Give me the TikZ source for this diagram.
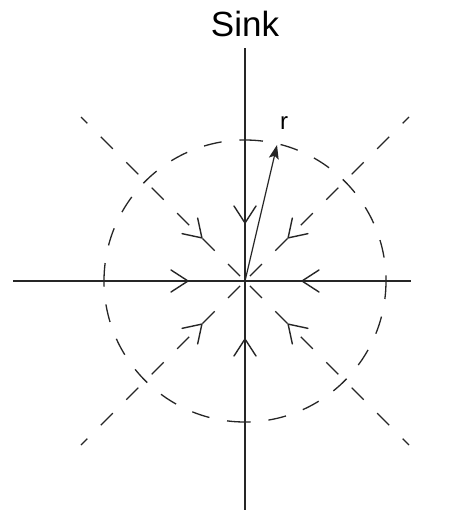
\documentclass[tikz,border=0pt]{standalone}
\usepackage{fontspec}
\setmainfont{Liberation Sans}
\usetikzlibrary{arrows.meta}
\begin{document}
\begin{tikzpicture}[x=1pt,y=-1pt,
  axis/.style={line width=1.4pt, black!85},
  ray/.style={line width=1.3pt, black!85, dash pattern=on 17pt off 19pt, dash phase=8pt},
  ring/.style={line width=1.3pt, black!85, dash pattern=on 18pt off 18pt},
  barb/.style={line width=1.4pt, black!85, line cap=round, line join=miter},
  radius arrow/.style={line width=1.2pt, black!85, -{Stealth[length=14pt,width=10pt,inset=3pt]}},
]
\useasboundingbox (0,0) rectangle (466,517);
\fill[white] (0,0) rectangle (466,517);
\coordinate (O) at (245,281);
\coordinate (W) at (13,281);
\coordinate (E) at (411,281);
\coordinate (N) at (245,48);
\coordinate (S) at (245,510);
\coordinate (NW) at (81,117);
\coordinate (NE) at (409,117);
\coordinate (SW) at (81,445);
\coordinate (SE) at (409,445);
\coordinate (R) at (277,145);

% title
\node[font=\fontsize{35}{35}\selectfont] (title) at (245,24) {Sink};

% axes
\draw[axis] (W) -- (E);
\draw[axis] (N) -- (S);

% diagonal dashed rays
\draw[ray] (NW) -- (O);
\draw[ray] (NE) -- (O);
\draw[ray] (SW) -- (O);
\draw[ray] (SE) -- (O);

% dashed circle (four quarters, each starting at an axis point)
\draw[ring] (386,281) arc[start angle=0, end angle=90, radius=141];
\draw[ring] (245,422) arc[start angle=90, end angle=180, radius=141];
\draw[ring] (104,281) arc[start angle=180, end angle=270, radius=141];
\draw[ring] (245,140) arc[start angle=270, end angle=360, radius=141];

% inward barbs
\coordinate (tW) at (188,281);
\coordinate (tE) at (302,281);
\coordinate (tN) at (245,223);
\coordinate (tS) at (245,339);
\coordinate (tNW) at (201.9,237.9);
\coordinate (tNE) at (288.1,237.9);
\coordinate (tSW) at (201.9,324.1);
\coordinate (tSE) at (288.1,324.1);
\draw[barb, shift={(tW)}, rotate=0] (-17,-11) -- (0,0) -- (-17,11);
\draw[barb, shift={(tE)}, rotate=180] (-17,-11) -- (0,0) -- (-17,11);
\draw[barb, shift={(tN)}, rotate=-90] (-17,-11) -- (0,0) -- (-17,11);
\draw[barb, shift={(tS)}, rotate=90] (-17,-11) -- (0,0) -- (-17,11);
\draw[barb, shift={(tNW)}, rotate=-45] (-17,-11) -- (0,0) -- (-17,11);
\draw[barb, shift={(tNE)}, rotate=-135] (-17,-11) -- (0,0) -- (-17,11);
\draw[barb, shift={(tSW)}, rotate=45] (-17,-11) -- (0,0) -- (-17,11);
\draw[barb, shift={(tSE)}, rotate=135] (-17,-11) -- (0,0) -- (-17,11);

% radius arrow
\draw[radius arrow] (O) -- (R);
\node[font=\fontsize{24}{24}\selectfont] (rlabel) at (284,123) {r};
\end{tikzpicture}
\end{document}
